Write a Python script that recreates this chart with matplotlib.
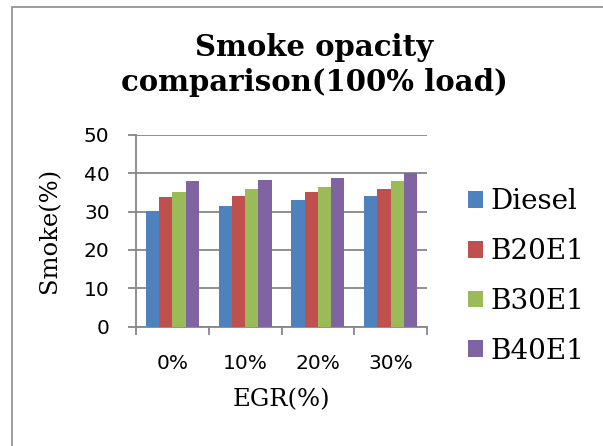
import numpy as np
import matplotlib
matplotlib.use('Agg')
import matplotlib.pyplot as plt
from matplotlib.patches import Rectangle, Patch

# smoke opacity at full load for each EGR rate
egr_labels = ['0%', '10%', '20%', '30%']
fuels = ['Diesel', 'B20E1', 'B30E1', 'B40E1']
diesel = [30.2, 31.4, 33.0, 34.1]
b20e1 = [33.8, 34.2, 35.1, 35.8]
b30e1 = [35.1, 35.9, 36.4, 38.0]
b40e1 = [37.9, 38.3, 38.9, 40.1]
colors = ['#4F81BD', '#C0504D', '#9BBB59', '#8064A2']

grid_col = '#878787'

fig = plt.figure(figsize = (6.03, 4.46), dpi = 100)
ax = fig.add_axes([136 / 603, 1 - 326.5 / 446, 291 / 603, 191.5 / 446])

x = np.arange(len(egr_labels))
w = 0.182
for i, vals in enumerate([diesel, b20e1, b30e1, b40e1]):
    ax.bar(x + (i - 1.5) * w, vals, width = w, color = colors[i], zorder = 3)

ax.set_xlim(-0.5, 3.5)
ax.set_ylim(0, 50)
ax.set_yticks(range(0, 51, 10))
ax.yaxis.grid(True, color = grid_col, linewidth = 1.3, zorder = 0)

for side in ['top', 'right']:
    ax.spines[side].set_visible(False)
for side in ['left', 'bottom']:
    ax.spines[side].set_color(grid_col)
    ax.spines[side].set_linewidth(1.3)

ax.tick_params(axis = 'y', length = 6, width = 1.3, color = grid_col, pad = 13, labelsize = 14.5)
ax.set_xticks(x)
ax.set_xticklabels(egr_labels)
ax.set_xticks(np.arange(-0.5, 4.0, 1.0), minor = True)
ax.tick_params(axis = 'x', which = 'major', length = 0, pad = 20, labelsize = 14.5)
ax.tick_params(axis = 'x', which = 'minor', length = 6, width = 1.3, color = grid_col)

ax.set_ylabel('Smoke(%)', family = 'DejaVu Serif', fontsize = 17.5)
ax.yaxis.set_label_coords(-0.256, 0.5)
ax.set_xlabel('EGR(%)', family = 'DejaVu Serif', fontsize = 17.5, labelpad = 11)

fig.text(314 / 603, 1 - 65 / 446, 'Smoke opacity\ncomparison(100% load)',
         ha = 'center', va = 'center', family = 'DejaVu Serif', fontweight = 'heavy',
         fontsize = 21, linespacing = 1.22)

handles = [Patch(facecolor = c) for c in colors]
fig.legend(handles, fuels, loc = 'center left', bbox_to_anchor = (468 / 603, 1 - 276.5 / 446),
           frameon = False, prop = {'family': 'DejaVu Serif', 'size': 20},
           handlelength = 0.55, handleheight = 0.55, handletextpad = 0.25,
           labelspacing = 0.82, borderpad = 0, borderaxespad = 0)

# chart border
fig.patches.append(Rectangle((11.5 / 603, -0.2), 1.2, 1.2 - 7 / 446, transform = fig.transFigure,
                             fill = False, edgecolor = '#8c8c8c', linewidth = 1.2))

fig.savefig('out.png', dpi = 100)
